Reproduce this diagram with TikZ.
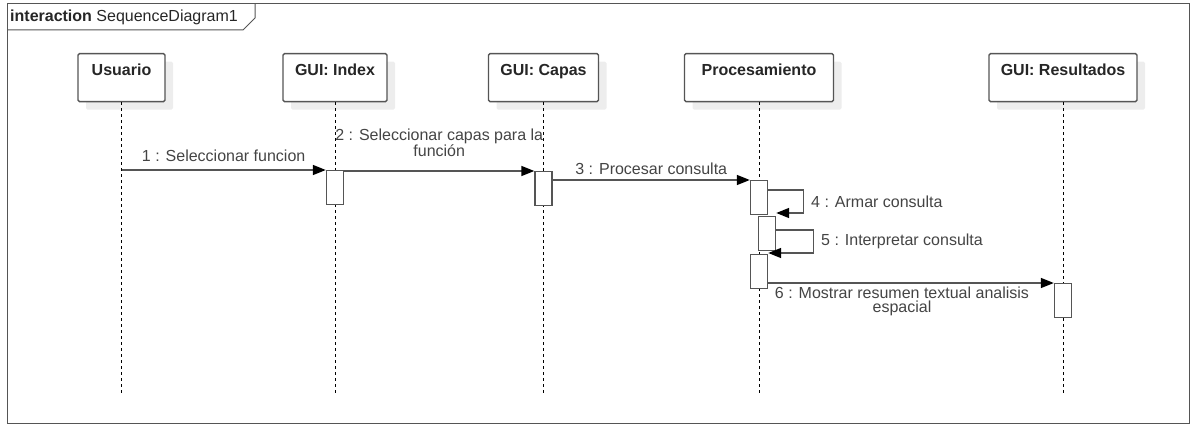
\documentclass[tikz,border=0pt]{standalone}
\usepackage{fontspec}
\setmainfont{Liberation Sans}
\usetikzlibrary{arrows.meta,shadows,positioning}
\definecolor{edge}{HTML}{555555}
\definecolor{txt}{HTML}{444444}
\begin{document}
\begin{tikzpicture}[x=1pt,y=-1pt,
    actor/.style={draw=edge,line width=1.4pt,rounded corners=1.5pt,fill=white,anchor=north,
      minimum height=48pt,inner ysep=3.5pt,text height=18.5pt,text depth=22.5pt,
      font=\fontsize{16}{14}\selectfont\bfseries,text=black!85,
      drop shadow={shadow xshift=8pt,shadow yshift=-8pt,fill=black!7,opacity=1}},
    bar/.style={draw=edge,line width=1.4pt,fill=white,anchor=north,
      minimum width=17pt,minimum height=34pt,inner sep=0pt},
    life/.style={dash pattern=on 3pt off 3pt,line width=1pt},
    msg/.style={draw=edge,line width=1.4pt,-{Triangle[length=13pt,width=10pt,color=black]}}]
  \tikzstyle{every node}=[font=\fontsize{16}{14}\selectfont,text=txt]
  \useasboundingbox (0,0) rectangle (1191,425);
  \draw[edge,line width=1pt] (7,4) rectangle (1189,423);
  \draw[edge,line width=1pt] (7,30) -- (243,30) -- (255,18) -- (255,4);
  \node[anchor=base west,inner sep=0pt,text=black!85] (ttl) at (10,22) {\textbf{interaction} SequenceDiagram1};

  \node[actor,minimum width=87pt] (usr) at (121.5,53) {Usuario};
  \node[actor,minimum width=104pt] (idx) at (335,53) {GUI: Index};
  \node[actor,minimum width=110pt] (cap) at (543.5,53) {GUI: Capas};
  \node[actor,minimum width=149pt] (pro) at (759,53) {Procesamiento};
  \node[actor,minimum width=148pt] (res) at (1063,53) {GUI: Resultados};

  \foreach \a in {usr,idx,cap,pro,res}
    \draw[life] (\a.south) -- (\a.south |- 0,393);

  \node[bar] (ix1) at (idx.south |- 0,170) {};
  \node[bar] (cp1) at (cap.south |- 0,171) {};
  \node[bar] (pr1) at (pro.south |- 0,180) {};
  \node[bar,xshift=8pt] (pr2) at (pro.south |- 0,216) {};
  \node[bar] (pr3) at (pro.south |- 0,254) {};
  \node[bar] (rs1) at (res.south |- 0,283) {};

  \coordinate (u1) at (usr.south |- 0,170);
  \draw[msg] (u1) -- node[above=4pt] {1 : Seleccionar funcion} (ix1.north west);
  \draw[msg] (ix1.north east |- cp1.north) -- node[above=10.5pt,align=center]
    {2 : Seleccionar capas para la\\función} (cp1.north west);
  \draw[msg] (cp1.east |- pr1.north) -- node[above=1pt] {3 : Procesar consulta} (pr1.north west);
  \draw[msg] ([yshift=-10pt]pr1.north east) -- ++(35,0)
    |- node[right=4pt,pos=.25] {4 : Armar consulta} ([yshift=3pt]pr2.north east);
  \draw[msg] ([yshift=-14pt]pr2.north east) -- ++(37,0)
    |- node[right=4pt,pos=.25] {5 : Interpretar consulta} ([yshift=1pt]pr3.north east);
  \draw[msg] (pr3.east |- rs1.north) -- node[below=0pt,xshift=-9pt,align=center]
    {6 : Mostrar resumen textual analisis\\espacial} (rs1.north west);
\end{tikzpicture}
\end{document}
